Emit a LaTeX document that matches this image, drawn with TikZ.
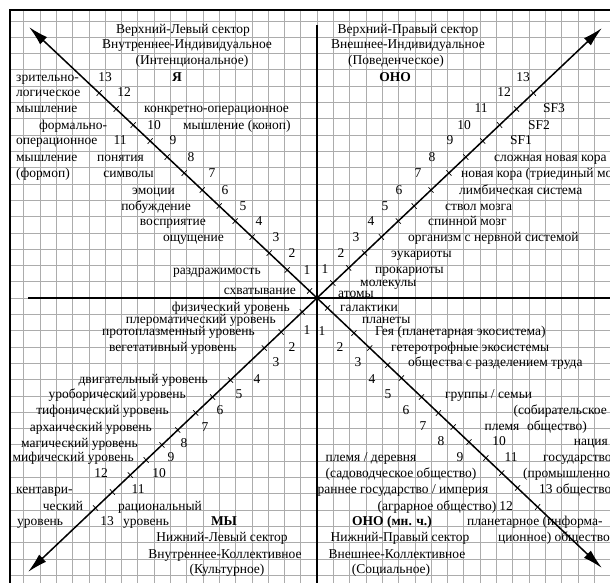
\documentclass[tikz,border=0pt]{standalone}
\usepackage{fontspec}
\setmainfont{Liberation Serif}
\usetikzlibrary{arrows.meta,calc}

\begin{document}
\begin{tikzpicture}[x=1pt,y=-1pt,
    every node/.style={inner sep=0pt,font=\fontsize{13.5}{15}\selectfont},
    lt/.style={anchor=base west,yshift=-4pt},
    ct/.style={anchor=base,yshift=-4pt},
    rt/.style={anchor=base east,yshift=-4pt},
    bf/.style={ct,font=\fontsize{13.5}{15}\selectfont\bfseries},
    gridline/.style={gray!65,line width=0.6pt},
    axis/.style={line width=1.6pt},
    diag/.style={line width=1.5pt,-{Latex[length=20pt,width=10pt]}},
    tick/.style={line width=0.7pt}]
    \useasboundingbox (0,0) rectangle (610,583);
    \fill[white] (0,0) rectangle (610,583);
    \clip (0,0) rectangle (610,583);

    % grid paper
    \begin{scope}
        \clip (10,10) rectangle (610,583);
        \foreach \k in {-19,...,18}
            \draw[gridline] ({317+16.3*\k},0) -- ({317+16.3*\k},583);
        \foreach \k in {-18,...,18}
            \draw[gridline] (0,{298+16.3*\k}) -- (610,{298+16.3*\k});
    \end{scope}

    % frame and axes
    \coordinate (fb) at (10,583);
    \coordinate (ftl) at (10,10);
    \coordinate (ftr) at (610,10);
    \draw[axis] (fb) -- (ftl) -- (ftr);

    \coordinate (c) at (317,298);
    \coordinate (vt) at (317,25);
    \coordinate (vb) at (317,583);
    \coordinate (hl) at (28,298);
    \coordinate (hr) at (610,298);
    \draw[axis] (vt) -- (vb);
    \draw[axis] (hl) -- (hr);

    % diagonals
    \coordinate (ul) at (29,27);
    \coordinate (ur) at (602,28);
    \coordinate (ll) at (28,572);
    \coordinate (lr) at (602,568);
    \foreach \e in {ul,ur,ll,lr}
        \draw[diag] (c) -- (\e);

    % level ticks
    \foreach \y in {291,270,253,237,221,206,190,173,157,141,125,109,93}
        \draw[tick] ($(c)!{(298-\y)/271}!(ul)$) ++(2.5,-2.7) -- ++(-5,5.4);
    \foreach \y in {283,268,253,237,221,206,190,173,157,141,125,109,93}
        \draw[tick] ($(c)!{(298-\y)/270}!(ur)$) ++(2.5,2.7) -- ++(-5,-5.4);
    \foreach \y in {312,332,348,380,397,413,430,445,460,475,492,508}
        \draw[tick] ($(c)!{(\y-298)/274}!(ll)$) ++(2.5,2.7) -- ++(-5,-5.4);
    \foreach \y in {308,333,348,365,378,397,413,427,442,458,473,488,507}
        \draw[tick] ($(c)!{(\y-298)/270}!(lr)$) ++(2.5,-2.7) -- ++(-5,5.4);

    % upper left
    \node[ct] (ul-head1) at (183,30) {Верхний-Левый сектор};
    \node[ct] (ul-head2) at (187,45) {Внутреннее-Индивидуальное};
    \node[ct] (ul-head3) at (192,61) {(Интенциональное)};
    \node[bf] (ul-ya) at (177,78) {Я};
    \node[ct] (ul-n13) at (105,78) {13};
    \node[lt] (ul-vl1) at (16,78) {зрительно-};
    \node[lt] (ul-vl2) at (16,93) {логическое};
    \node[lt] (ul-vl3) at (16,109) {мышление};
    \node[ct] (ul-n12) at (124,93) {12};
    \node[lt] (ul-co1) at (144,109) {конкретно-операционное};
    \node[lt] (ul-fo1) at (39,125) {формально-};
    \node[ct] (ul-n10) at (154,125) {10};
    \node[lt] (ul-co2) at (183,125) {мышление (коноп)};
    \node[lt] (ul-fo2) at (16,141) {операционное};
    \node[ct] (ul-n11) at (120,141) {11};
    \node[ct] (ul-n9) at (173,141) {9};
    \node[lt] (ul-fo3) at (16,157) {мышление};
    \node[rt] (ul-con) at (144,157) {понятия};
    \node[ct] (ul-n8) at (191,157) {8};
    \node[lt] (ul-fo4) at (16,173) {(формоп)};
    \node[rt] (ul-sym) at (154,173) {символы};
    \node[ct] (ul-n7) at (212,173) {7};
    \node[rt] (ul-emo) at (175,190) {эмоции};
    \node[ct] (ul-n6) at (225,190) {6};
    \node[rt] (ul-imp) at (191,206) {побуждение};
    \node[ct] (ul-n5) at (243,206) {5};
    \node[rt] (ul-per) at (206,221) {восприятие};
    \node[ct] (ul-n4) at (259,221) {4};
    \node[rt] (ul-sen) at (224,237) {ощущение};
    \node[ct] (ul-n3) at (276,237) {3};
    \node[ct] (ul-n2) at (292,253) {2};
    \node[rt] (ul-irr) at (261,270) {раздражимость};
    \node[ct] (ul-n1) at (307,270) {1};
    \node[rt] (ul-pre) at (296,290) {схватывание};

    % upper right
    \node[ct] (ur-head1) at (408,30) {Верхний-Правый сектор};
    \node[ct] (ur-head2) at (408,45) {Внешнее-Индивидуальное};
    \node[ct] (ur-head3) at (396,61) {(Поведенческое)};
    \node[bf] (ur-ono) at (395,78) {ОНО};
    \node[ct] (ur-n13) at (523,78) {13};
    \node[ct] (ur-n12) at (504,93) {12};
    \node[ct] (ur-n11) at (481,109) {11};
    \node[lt] (ur-sf3) at (543,109) {SF3};
    \node[ct] (ur-n10) at (464,125) {10};
    \node[lt] (ur-sf2) at (528,125) {SF2};
    \node[ct] (ur-n9) at (450,141) {9};
    \node[lt] (ur-sf1) at (510,141) {SF1};
    \node[ct] (ur-n8) at (432,157) {8};
    \node[lt] (ur-cnc) at (494,157) {сложная новая кора};
    \node[ct] (ur-n7) at (418,173) {7};
    \node[lt] (ur-nc) at (461,173) {новая кора (триединый мозг)};
    \node[ct] (ur-n6) at (399,190) {6};
    \node[lt] (ur-lim) at (459,190) {лимбическая система};
    \node[ct] (ur-n5) at (385,206) {5};
    \node[lt] (ur-bs) at (445,206) {ствол мозга};
    \node[ct] (ur-n4) at (371,221) {4};
    \node[lt] (ur-sc) at (428,221) {спинной мозг};
    \node[ct] (ur-n3) at (356,237) {3};
    \node[lt] (ur-org) at (408,237) {организм с нервной системой};
    \node[ct] (ur-n2) at (341,253) {2};
    \node[lt] (ur-euk) at (391,253) {эукариоты};
    \node[ct] (ur-n1) at (325,269) {1};
    \node[lt] (ur-pro) at (375,269) {прокариоты};
    \node[lt] (ur-mol) at (360,282) {молекулы};
    \node[lt] (ur-atm) at (338,293) {атомы};

    % lower left
    \node[rt] (ll-phy) at (290,307) {физический уровень};
    \node[rt] (ll-ple) at (276,319) {плероматический уровень};
    \node[rt] (ll-pro) at (255,331) {протоплазменный уровень};
    \node[ct] (ll-n1) at (307,330) {1};
    \node[rt] (ll-veg) at (237,347) {вегетативный уровень};
    \node[ct] (ll-n2) at (292,347) {2};
    \node[ct] (ll-n3) at (276,362) {3};
    \node[rt] (ll-mot) at (208,379) {двигательный уровень};
    \node[ct] (ll-n4) at (257,379) {4};
    \node[rt] (ll-uro) at (186,394) {уроборический уровень};
    \node[ct] (ll-n5) at (239,394) {5};
    \node[rt] (ll-tif) at (169,410) {тифонический уровень};
    \node[ct] (ll-n6) at (220,410) {6};
    \node[rt] (ll-arc) at (152,427) {архаический уровень};
    \node[ct] (ll-n7) at (205,427) {7};
    \node[rt] (ll-mag) at (138,443) {магический уровень};
    \node[ct] (ll-n8) at (184,443) {8};
    \node[rt] (ll-myt) at (134,457) {мифический уровень};
    \node[ct] (ll-n9) at (171,457) {9};
    \node[ct] (ll-n12) at (101,473) {12};
    \node[ct] (ll-n10) at (159,473) {10};
    \node[lt] (ll-cen1) at (16,489) {кентаври-};
    \node[ct] (ll-n11) at (138,489) {11};
    \node[ct] (ll-cen2) at (63,506) {ческий};
    \node[ct] (ll-rat1) at (160,506) {рациональный};
    \node[lt] (ll-cen3) at (17,521) {уровень};
    \node[ct] (ll-n13) at (107,521) {13};
    \node[ct] (ll-rat2) at (146,521) {уровень};
    \node[bf] (ll-we) at (224,521) {МЫ};
    \node[ct] (ll-head1) at (222,537) {Нижний-Левый сектор};
    \node[ct] (ll-head2) at (225,554) {Внутреннее-Коллективное};
    \node[ct] (ll-head3) at (227,569) {(Культурное)};

    % lower right
    \node[lt] (lr-gal) at (340,307) {галактики};
    \node[lt] (lr-pla) at (362,319) {планеты};
    \node[ct] (lr-n1) at (322,331) {1};
    \node[lt] (lr-gaia) at (375,331) {Гея (планетарная экосистема)};
    \node[ct] (lr-n2) at (340,347) {2};
    \node[lt] (lr-het) at (391,347) {гетеротрофные экосистемы};
    \node[ct] (lr-n3) at (358,362) {3};
    \node[lt] (lr-div) at (408,362) {общества с разделением труда};
    \node[ct] (lr-n4) at (372,379) {4};
    \node[ct] (lr-n5) at (388,394) {5};
    \node[lt] (lr-fam) at (445,394) {группы / семьи};
    \node[ct] (lr-n6) at (406,410) {6};
    \node[rt] (lr-for1) at (607,410) {(собирательское};
    \node[ct] (lr-n7) at (423,426) {7};
    \node[ct] (lr-tri) at (502,426) {племя};
    \node[ct] (lr-for2) at (557,426) {общество)};
    \node[ct] (lr-n8) at (441,441) {8};
    \node[ct] (lr-n10) at (499,441) {10};
    \node[rt] (lr-nat) at (608,441) {нация};
    \node[ct] (lr-vil) at (371,457) {племя / деревня};
    \node[ct] (lr-n9) at (460,457) {9};
    \node[ct] (lr-n11) at (511,457) {11};
    \node[lt] (lr-st1) at (543,457) {государство};
    \node[ct] (lr-hor) at (401,473) {(садоводческое общество)};
    \node[lt] (lr-st2) at (523,473) {(промышленное};
    \node[ct] (lr-emp) at (403,489) {раннее государство / империя};
    \node[lt] (lr-n13) at (539,489) {13 общество};
    \node[ct] (lr-agr) at (437,506) {(аграрное общество)};
    \node[ct] (lr-n12) at (506,506) {12};
    \node[bf] (lr-its) at (392,521) {ОНО (мн. ч.)};
    \node[lt] (lr-inf1) at (467,521) {планетарное (информа-};
    \node[ct] (lr-head1) at (400,537) {Нижний-Правый сектор};
    \node[lt] (lr-inf2) at (498,537) {ционное) общество};
    \node[ct] (lr-head2) at (397,554) {Внешнее-Коллективное};
    \node[ct] (lr-head3) at (391,569) {(Социальное)};
\end{tikzpicture}
\end{document}
